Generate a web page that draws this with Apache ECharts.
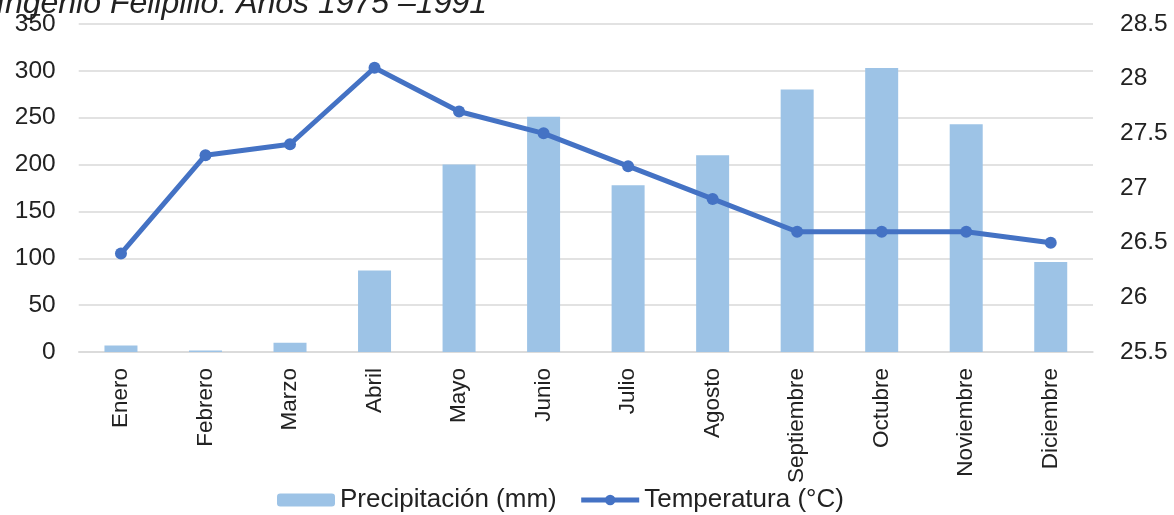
<!DOCTYPE html>
<html>
<head>
<meta charset="utf-8">
<style>
  html, body { margin: 0; padding: 0; background: #ffffff; }
  #chart { width: 1174px; height: 515px; }
</style>
<script src="https://cdn.jsdelivr.net/npm/echarts@6/dist/echarts.min.js"></script>
</head>
<body>
<div id="chart"></div>
<script>
// Monthly climate data, Ingenio Felipillo 1975–1991
const months = ['Enero', 'Febrero', 'Marzo', 'Abril', 'Mayo', 'Junio', 'Julio', 'Agosto', 'Septiembre', 'Octubre', 'Noviembre', 'Diciembre'];
const precipitation = [7, 1.5, 10, 87, 200, 251, 178, 210, 280, 303, 243, 96];
const temperature = [26.4, 27.3, 27.4, 28.1, 27.7, 27.5, 27.2, 26.9, 26.6, 26.6, 26.6, 26.5];
const precipTicks = { min: 0, max: 350, step: 50 };
const tempTicks = { min: 25.5, max: 28.5, step: 0.5 };

const FONT = '"Liberation Sans", Arial, sans-serif';
const TEXT = '#222222';
const GRID = '#d9d9d9';
const BAR = '#9dc3e6';
const LINE = '#4472c4';

const chart = echarts.init(document.getElementById('chart'), null, { renderer: 'canvas' });

chart.setOption({
  backgroundColor: '#ffffff',
  animation: false,
  textStyle: { fontFamily: FONT },
  graphic: [{
    type: 'text',
    x: -4,
    y: -12,
    style: {
      text: 'Ingenio Felipillo. Años 1975 –1991',
      font: 'italic 32px ' + FONT,
      fill: TEXT
    }
  }],
  grid: { left: 78.7, right: 81, top: 24, bottom: 163, containLabel: false },
  legend: {
    left: 272,
    top: 482,
    itemWidth: 58,
    itemHeight: 13,
    itemGap: 22,
    textStyle: { fontSize: 26, color: TEXT, fontFamily: FONT },
    data: [
      { name: 'Precipitación (mm)', itemStyle: { color: BAR } },
      { name: 'Temperatura (°C)', lineStyle: { color: LINE, width: 5 }, itemStyle: { color: LINE } }
    ]
  },
  xAxis: {
    type: 'category',
    data: months,
    axisLine: { show: true, lineStyle: { color: GRID, width: 1.5 } },
    axisTick: { show: false },
    axisLabel: { rotate: 90, margin: 16, fontSize: 22.5, color: TEXT, fontFamily: FONT }
  },
  yAxis: [
    {
      type: 'value',
      min: precipTicks.min,
      max: precipTicks.max,
      interval: precipTicks.step,
      axisLine: { show: false },
      axisTick: { show: false },
      splitLine: { lineStyle: { color: GRID, width: 1.5 } },
      axisLabel: { margin: 23, fontSize: 24.5, color: TEXT, fontFamily: FONT }
    },
    {
      type: 'value',
      min: tempTicks.min,
      max: tempTicks.max,
      interval: tempTicks.step,
      axisLine: { show: false },
      axisTick: { show: false },
      splitLine: { show: false },
      axisLabel: { margin: 27, fontSize: 24.5, color: TEXT, fontFamily: FONT }
    }
  ],
  series: [
    {
      name: 'Precipitación (mm)',
      type: 'bar',
      yAxisIndex: 0,
      data: precipitation,
      barWidth: 33,
      itemStyle: { color: BAR }
    },
    {
      name: 'Temperatura (°C)',
      type: 'line',
      yAxisIndex: 1,
      data: temperature,
      symbol: 'circle',
      symbolSize: 12,
      lineStyle: { color: LINE, width: 5 },
      itemStyle: { color: LINE }
    }
  ]
});
</script>
</body>
</html>
